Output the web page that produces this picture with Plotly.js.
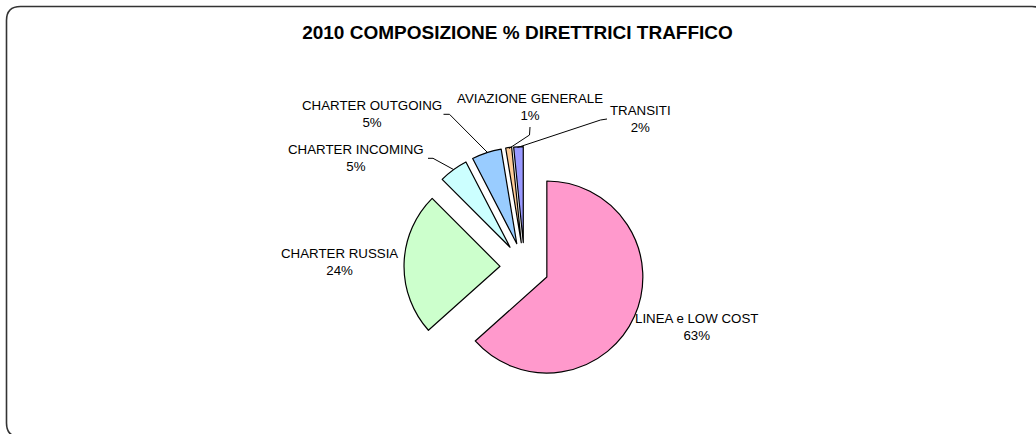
<!DOCTYPE html>
<html>
<head>
<meta charset="utf-8">
<script src="https://cdn.plot.ly/plotly-3.0.1.min.js"></script>
<style>
html,body{margin:0;padding:0;background:#fff;}
#chart{width:1036px;height:434px;}
</style>
</head>
<body>
<div id="chart"></div>
<script>
// ---- data ----
const categories = ["LINEA e LOW COST", "CHARTER RUSSIA", "CHARTER INCOMING", "CHARTER OUTGOING", "AVIAZIONE GENERALE", "TRANSITI"];
const shares = [63.4, 24.1, 4.9, 5.0, 1.0, 1.6];
const sliceColors = ["#FF99CC", "#CCFFCC", "#CCFFFF", "#99CCFF", "#FFCC99", "#9999FF"];
const chartTitle = "2010 COMPOSIZIONE % DIRETTRICI TRAFFICO";

// ---- layout helpers (pixel -> paper) ----
const W = 1036, H = 434;
const px = x => x / W;
const py = y => 1 - y / H;
const P = (x, y) => px(x) + "," + py(y);

const total = shares.reduce((a, b) => a + b, 0);
const pctText = shares.map(v => Math.round(v / total * 100) + "%");

// label placements (pixel centres of two-line blocks)
const labelPos = [
  [696, 326.5], [339, 262], [356, 158], [371.5, 114], [530, 106.5], [640, 119.5]
];
// leader lines (pixel polylines); null = none
const leaders = [
  null, null,
  [[428, 158.3], [433, 158.3], [453.5, 169.5]],
  [[443.5, 114.3], [449.5, 114.3], [487.5, 152.5]],
  [[530, 127], [529.5, 135], [509, 148.5]],
  [[607, 119], [600.5, 120], [517.5, 147.5]]
];

const annotations = categories.map((c, i) => ({
  xref: "paper", yref: "paper",
  x: px(labelPos[i][0]), y: py(labelPos[i][1]),
  xanchor: "center", yanchor: "middle",
  text: c + "<br>" + pctText[i],
  showarrow: false,
  font: {family: "Liberation Sans, Arial, sans-serif", size: 13.3, color: "#000"}
}));

const shapes = [];
leaders.forEach(l => {
  if (!l) return;
  let d = "M" + P(l[0][0], l[0][1]);
  for (let k = 1; k < l.length; k++) d += " L" + P(l[k][0], l[k][1]);
  shapes.push({type: "path", xref: "paper", yref: "paper", path: d,
    line: {color: "#000", width: 1}});
});

// rounded border (extends beyond the visible area on right/bottom)
(function(){
  const x0 = 6.5, y0 = 6.5, x1 = 1046, y1 = 437, r = 14;
  const d = "M" + P(x0 + r, y0) + " L" + P(x1 - r, y0) + " Q" + P(x1, y0) + " " + P(x1, y0 + r) +
    " L" + P(x1, y1 - r) + " Q" + P(x1, y1) + " " + P(x1 - r, y1) +
    " L" + P(x0 + r, y1) + " Q" + P(x0, y1) + " " + P(x0, y1 - r) +
    " L" + P(x0, y0 + r) + " Q" + P(x0, y0) + " " + P(x0 + r, y0) + " Z";
  shapes.push({type: "path", xref: "paper", yref: "paper", path: d,
    line: {color: "#333", width: 1.6}, layer: "above"});
})();

// pie geometry
const pull = 0.255;
const cxp = 524.5, cyp = 267, rad = 96;
const half = rad * (1 + pull);

const trace = {
  type: "pie",
  labels: categories,
  values: shares,
  sort: false,
  direction: "clockwise",
  rotation: 0,
  pull: pull,
  textinfo: "none",
  hoverinfo: "label+percent",
  marker: {colors: sliceColors, line: {color: "#000", width: 1.2}},
  domain: {x: [px(cxp) - 0.2, px(cxp) + 0.2], y: [py(cyp + half), py(cyp - half)]},
  showlegend: false
};

const layout = {
  width: W, height: H,
  margin: {l: 0, r: 0, t: 0, b: 0},
  paper_bgcolor: "#fff",
  title: {
    text: "<b>" + chartTitle + "</b>",
    font: {family: "Liberation Sans, Arial, sans-serif", size: 19, color: "#000"},
    x: px(517.5), xanchor: "center", xref: "paper",
    y: py(32), yanchor: "middle", yref: "paper"
  },
  annotations: annotations,
  shapes: shapes,
  showlegend: false
};

Plotly.newPlot("chart", [trace], layout, {displayModeBar: false, staticPlot: true});
</script>
</body>
</html>
